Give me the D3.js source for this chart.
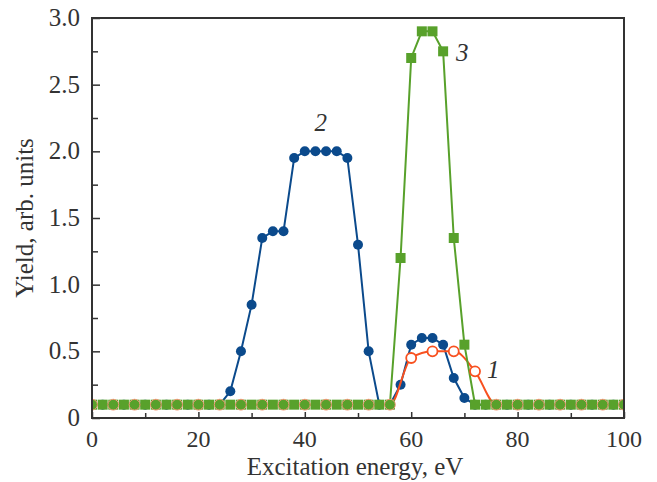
<!DOCTYPE html>
<html>
<head>
<meta charset="utf-8">
<script src="https://cdn.jsdelivr.net/npm/d3@7"></script>
<style>
  body { margin: 0; background: #fff; }
  text { font-family: "Liberation Serif", serif; fill: #333; }
</style>
</head>
<body>
<div id="chart"></div>
<script>
// Energies (eV) and yields
const energy2 = d3.range(0, 101, 2);
const energy1 = d3.range(0, 101, 4);

const base = 0.1;

// curve 1: orange open circles, 4 eV step
const yield1 = energy1.map(e => ({56: 0.1, 60: 0.45, 64: 0.5, 68: 0.5, 72: 0.35, 76: 0.1})[e] ?? base);

// curve 2: blue filled circles, 2 eV step
const peak2 = {26: 0.2, 28: 0.5, 30: 0.85, 32: 1.35, 34: 1.4, 36: 1.4, 38: 1.95, 40: 2.0, 42: 2.0,
  44: 2.0, 46: 2.0, 48: 1.95, 50: 1.3, 52: 0.5, 54: 0.1, 56: 0.1, 58: 0.25, 60: 0.55, 62: 0.6,
  64: 0.6, 66: 0.55, 68: 0.3, 70: 0.15};
const yield2 = energy2.map(e => peak2[e] ?? base);

// curve 3: green squares, 2 eV step
const peak3 = {58: 1.2, 60: 2.7, 62: 2.9, 64: 2.9, 66: 2.75, 68: 1.35, 70: 0.55};
const yield3 = energy2.map(e => peak3[e] ?? base);

const xTicks = [0, 20, 40, 60, 80, 100];
const yTicks = [0, 0.5, 1.0, 1.5, 2.0, 2.5, 3.0];

const curveLabels = [
  {text: "1", x: 75.4, y: 0.3},
  {text: "2", x: 43, y: 2.15},
  {text: "3", x: 69.6, y: 2.68}
];

const W = 657, H = 482;
const margin = {top: 18, right: 33, bottom: 64, left: 92};
const width = W - margin.left - margin.right,
      height = H - margin.top - margin.bottom;

const svg = d3.select("#chart").append("svg")
    .attr("width", W)
    .attr("height", H);

const g = svg.append("g")
    .attr("transform", `translate(${margin.left},${margin.top})`);

const x = d3.scaleLinear().domain([0, 100]).range([0, width]);
const y = d3.scaleLinear().domain([0, 3]).range([height, 0]);

const blue = "#0b4a8c", green = "#58a12b", orange = "#f8501f";

g.append("clipPath").attr("id", "clip")
  .append("rect").attr("width", width).attr("height", height);

const plot = g.append("g").attr("clip-path", "url(#clip)");

// curve 2
const pts2 = energy2.map((e, i) => [e, yield2[i]]);
plot.append("path")
    .datum(pts2)
    .attr("fill", "none")
    .attr("stroke", blue)
    .attr("stroke-width", 2)
    .attr("d", d3.line().x(d => x(d[0])).y(d => y(d[1])));
plot.selectAll(".m2")
  .data(pts2)
  .enter().append("circle")
    .attr("cx", d => x(d[0]))
    .attr("cy", d => y(d[1]))
    .attr("r", 5)
    .attr("fill", blue);

// curve 1
const pts1 = energy1.map((e, i) => [e, yield1[i]]);
plot.append("path")
    .datum(pts1)
    .attr("fill", "none")
    .attr("stroke", orange)
    .attr("stroke-width", 2)
    .attr("d", d3.line().curve(d3.curveMonotoneX).x(d => x(d[0])).y(d => y(d[1])));

// curve 3
const pts3 = energy2.map((e, i) => [e, yield3[i]]);
plot.append("path")
    .datum(pts3)
    .attr("fill", "none")
    .attr("stroke", green)
    .attr("stroke-width", 2)
    .attr("d", d3.line().x(d => x(d[0])).y(d => y(d[1])));
plot.selectAll(".m3")
  .data(pts3)
  .enter().append("rect")
    .attr("x", d => x(d[0]) - 5)
    .attr("y", d => y(d[1]) - 5)
    .attr("width", 10)
    .attr("height", 10)
    .attr("fill", green);

// curve 1 markers on top (baseline ones look green-filled in the original)
plot.selectAll(".m1")
  .data(pts1)
  .enter().append("circle")
    .attr("cx", d => x(d[0]))
    .attr("cy", d => y(d[1]))
    .attr("r", d => d[1] === base ? 5.4 : 5)
    .attr("fill", d => d[1] === base ? green : "#fff")
    .attr("stroke", d => d[1] === base ? "#f39a78" : orange)
    .attr("stroke-width", d => d[1] === base ? 1 : 1.8);

// frame
g.append("rect")
    .attr("width", width)
    .attr("height", height)
    .attr("fill", "none")
    .attr("stroke", "#333")
    .attr("stroke-width", 2);

// bottom axis, ticks inside
const xAxis = g.append("g")
    .attr("transform", `translate(0,${height})`)
    .call(d3.axisBottom(x).tickValues(d3.range(0, 101, 10)).tickSize(-5).tickFormat(""));
xAxis.select(".domain").remove();
xAxis.selectAll("line").attr("stroke", "#333").attr("stroke-width", 1.5);
xAxis.selectAll(".tick")
  .filter(d => xTicks.includes(d))
  .select("line").attr("y2", -6);

g.selectAll(".xl")
  .data(xTicks)
  .enter().append("text")
    .attr("x", d => x(d))
    .attr("y", height + 29)
    .attr("text-anchor", "middle")
    .style("font-size", "24px")
    .text(d => d);

// left axis, ticks inside
const yAxis = g.append("g")
    .call(d3.axisLeft(y).tickValues(d3.range(0, 3.01, 0.25)).tickSize(-6).tickFormat(""));
yAxis.select(".domain").remove();
yAxis.selectAll("line").attr("stroke", "#333").attr("stroke-width", 1.5);
yAxis.selectAll(".tick")
  .filter(d => yTicks.some(t => Math.abs(t - d) < 1e-6))
  .select("line").attr("x2", 8);

g.selectAll(".yl")
  .data(yTicks)
  .enter().append("text")
    .attr("x", -12)
    .attr("y", d => y(d) + 8)
    .attr("text-anchor", "end")
    .style("font-size", "25px")
    .text(d => d === 0 ? "0" : d.toFixed(1));

// axis titles
g.append("text")
    .attr("x", width / 2 - 3)
    .attr("y", height + 57)
    .attr("text-anchor", "middle")
    .style("font-size", "25px")
    .text("Excitation energy, eV");

g.append("text")
    .attr("transform", `translate(${33 - margin.left},${200})rotate(-90)`)
    .attr("text-anchor", "middle")
    .style("font-size", "25px")
    .text("Yield, arb. units");

// curve numbers
g.selectAll(".cl")
  .data(curveLabels)
  .enter().append("text")
    .attr("x", d => x(d.x))
    .attr("y", d => y(d.y))
    .attr("text-anchor", "middle")
    .style("font-size", "25px")
    .style("font-style", "italic")
    .text(d => d.text);
</script>
</body>
</html>
